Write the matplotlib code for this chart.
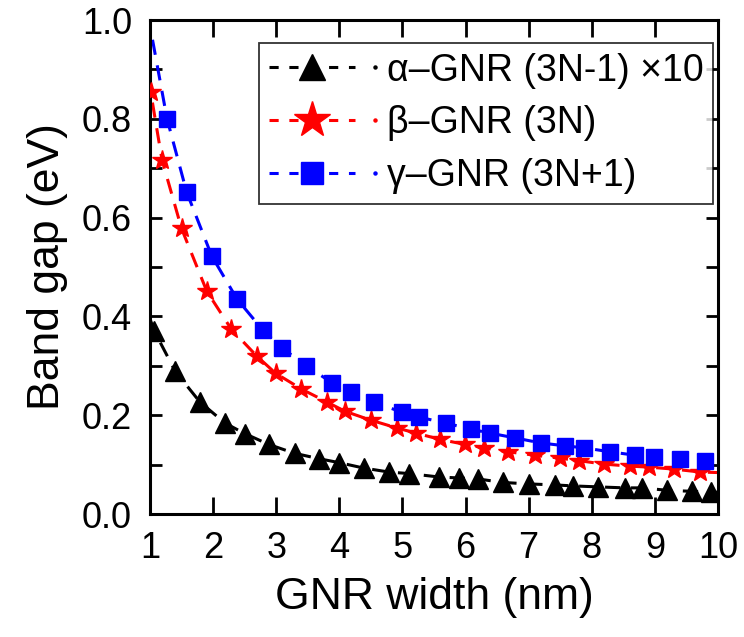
import matplotlib
matplotlib.use("Agg")
import matplotlib.pyplot as plt
from matplotlib.lines import Line2D
from matplotlib.legend_handler import HandlerLine2D
from matplotlib.ticker import MultipleLocator, FormatStrFormatter

plt.rcParams['font.family'] = ['Liberation Sans', 'DejaVu Sans']

# alpha-GNR (3N-1), gap scaled by x10
alpha_x = [1.07, 1.40, 1.79, 2.19, 2.50, 2.88, 3.29, 3.68, 4.00, 4.39, 4.79, 5.10, 5.58,
           5.90, 6.20, 6.59, 7.00, 7.41, 7.70, 8.10, 8.52, 8.80, 9.20, 9.59, 9.89]
alpha_y = [0.370, 0.289, 0.227, 0.184, 0.163, 0.141, 0.123, 0.112, 0.104, 0.093, 0.085, 0.082, 0.075,
           0.073, 0.071, 0.064, 0.061, 0.059, 0.057, 0.055, 0.053, 0.053, 0.048, 0.046, 0.045]

# beta-GNR (3N)
beta_x = [1.01, 1.19, 1.50, 1.90, 2.29, 2.69, 2.99, 3.40, 3.80, 4.09, 4.50, 4.92, 5.21,
          5.60, 5.99, 6.29, 6.68, 7.10, 7.50, 7.80, 8.20, 8.61, 8.90, 9.30, 9.72]
beta_y = [0.855, 0.717, 0.578, 0.451, 0.374, 0.320, 0.285, 0.253, 0.227, 0.208, 0.190, 0.174, 0.164,
          0.151, 0.141, 0.134, 0.126, 0.119, 0.113, 0.108, 0.101, 0.097, 0.095, 0.091, 0.085]

# gamma-GNR (3N+1)
gamma_x = [1.27, 1.58, 1.98, 2.38, 2.79, 3.09, 3.48, 3.88, 4.19, 4.55, 5.00, 5.27,
           5.69, 6.08, 6.38, 6.79, 7.19, 7.58, 7.88, 8.29, 8.69, 8.99, 9.40, 9.80]
gamma_y = [0.800, 0.652, 0.522, 0.435, 0.372, 0.336, 0.300, 0.266, 0.247, 0.226, 0.206, 0.196,
           0.184, 0.172, 0.164, 0.154, 0.144, 0.138, 0.134, 0.126, 0.119, 0.115, 0.111, 0.107]

# ends of the dashed fit curves outside the data range
alpha_head = (1.0, 0.395)
alpha_tail = (10.0, 0.044)
beta_head = (0.99, 0.885)
beta_tail = (10.0, 0.084)
gamma_head = (1.04, 0.96)
gamma_tail = (10.0, 0.104)

labels = ['\u03b1\u2013GNR (3N-1) \u00d710', '\u03b2\u2013GNR (3N)', '\u03b3\u2013GNR (3N+1)']


class DotHandler(HandlerLine2D):
    """Line+marker legend key followed by a small dot in the series colour."""

    def create_artists(self, legend, orig_handle, xdescent, ydescent, width, height,
                       fontsize, trans):
        arts = super().create_artists(legend, orig_handle, xdescent, ydescent, width,
                                      height, fontsize, trans)
        dot = Line2D([width - xdescent + 0.55 * fontsize], [height / 2 - ydescent],
                     marker='o', ms=2.2, linestyle='none',
                     color=orig_handle.get_color(), transform=trans)
        return list(arts) + [dot]


fig = plt.figure(figsize=(7.44, 6.37), dpi=100)
ax = fig.add_axes([0.2016, 0.193, 0.7634, 0.7756])

series = [
    (alpha_x, alpha_y, alpha_head, alpha_tail, 'black', '^', 14),
    (beta_x, beta_y, beta_head, beta_tail, '#ff0000', '*', 15),
    (gamma_x, gamma_y, gamma_head, gamma_tail, '#0000ff', 's', 11),
]

handles = []
for (xs, ys, head, tail, c, m, ms), lab in zip(series, labels):
    fx = [head[0]] + xs + [tail[0]]
    fy = [head[1]] + ys + [tail[1]]
    ax.plot(fx, fy, color=c, lw=2.2, linestyle=(0, (5, 3.5)), zorder=2)
    ax.plot(xs, ys, linestyle='none', marker=m, ms=ms, color=c, mec=c, zorder=3)
    h, = ax.plot([], [], color=c, lw=2.2, linestyle=(0, (3, 3.5)), marker=m, ms=ms, mec=c)
    handles.append(h)

ax.set_xlim(1, 10)
ax.set_ylim(0, 1.0)
ax.xaxis.set_major_locator(MultipleLocator(1))
ax.yaxis.set_major_locator(MultipleLocator(0.2))
ax.yaxis.set_minor_locator(MultipleLocator(0.1))
ax.yaxis.set_major_formatter(FormatStrFormatter('%.1f'))

for s in ax.spines.values():
    s.set_linewidth(2.2)
ax.tick_params(which='both', direction='in', top=True, right=True, width=2.0, labelsize=26)
ax.tick_params(axis='x', which='major', length=12, pad=12)
ax.tick_params(axis='y', which='both', length=8.5, pad=13)

ax.set_xlabel('GNR width (nm)', fontsize=32, labelpad=8)
ax.set_ylabel('Band gap (eV)', fontsize=32, labelpad=10)

leg = ax.legend(handles, labels, loc='upper right', bbox_to_anchor=(0.991, 0.953),
                handler_map={h: DotHandler() for h in handles},
                fontsize=27, frameon=True, fancybox=False, handlelength=2.3,
                handletextpad=0.85, borderpad=0.25, labelspacing=0.45, borderaxespad=0)
leg.get_frame().set_edgecolor('black')
leg.get_frame().set_linewidth(1.3)
for h, ms in zip(leg.legend_handles, [19, 27, 16]):
    h.set_markersize(ms)

fig.savefig('out.png', dpi=100)
